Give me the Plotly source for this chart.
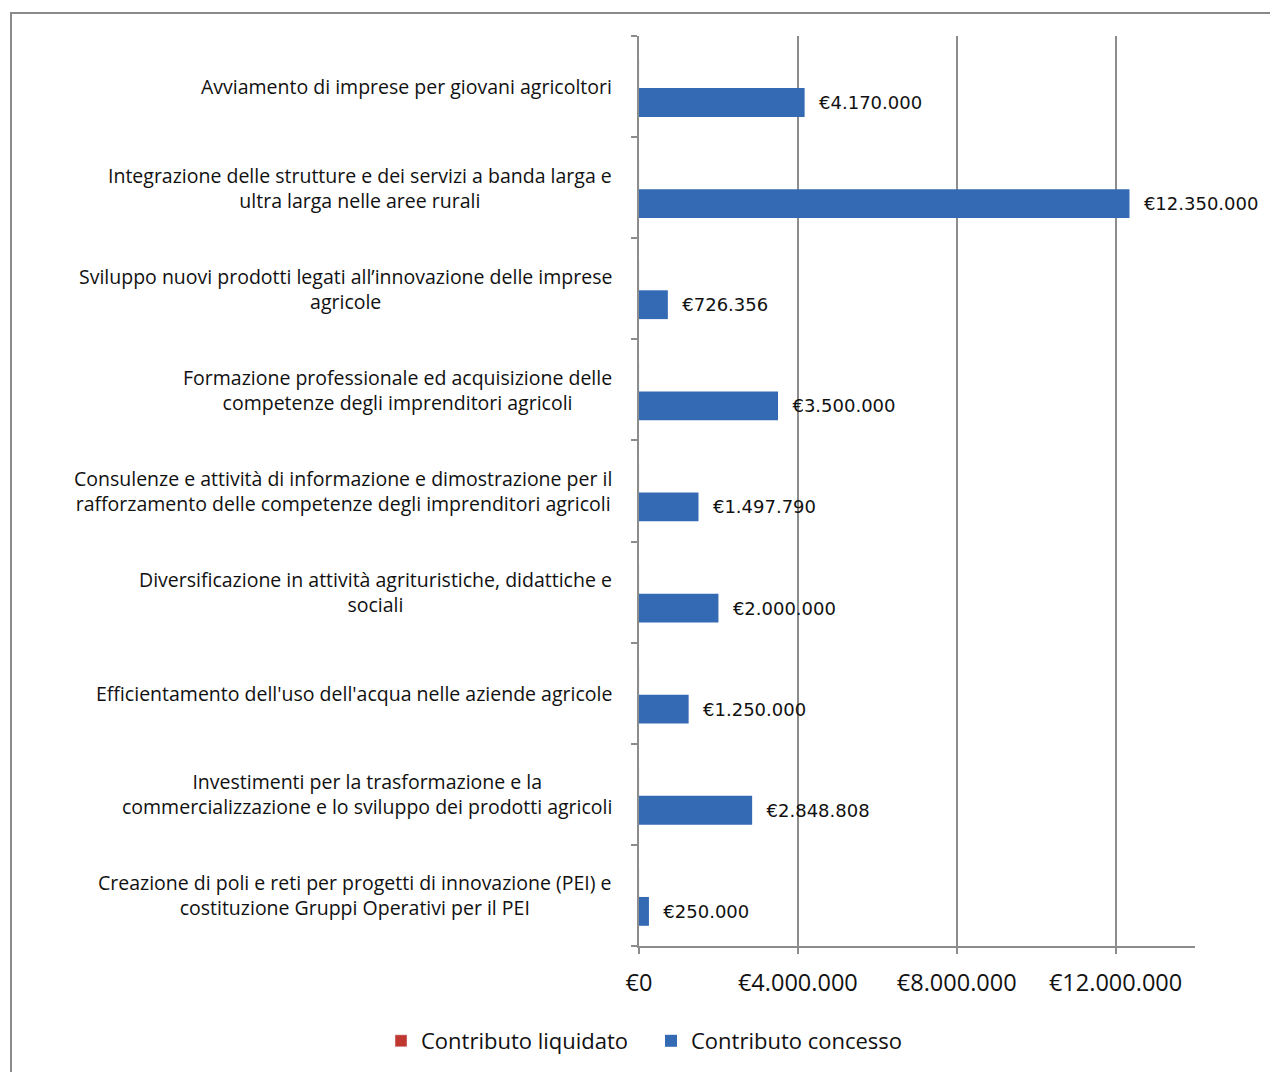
import plotly.graph_objects as go

categories = [
    "Avviamento di imprese per giovani agricoltori",
    "Integrazione delle strutture e dei servizi a banda larga e<br>ultra larga nelle aree rurali",
    "Sviluppo nuovi prodotti legati all’innovazione delle imprese<br>agricole",
    "Formazione professionale ed acquisizione delle<br>competenze degli imprenditori agricoli",
    "Consulenze e attività di informazione e dimostrazione per il<br>rafforzamento delle competenze degli imprenditori agricoli",
    "Diversificazione in attività agrituristiche, didattiche e<br>sociali",
    "Efficientamento dell'uso dell'acqua nelle aziende agricole",
    "Investimenti per la trasformazione e la<br>commercializzazione e lo sviluppo dei prodotti agricoli",
    "Creazione di poli e reti per progetti di innovazione (PEI) e<br>costituzione Gruppi Operativi per il PEI",
]
contributo_concesso = [4170000, 12350000, 726356, 3500000, 1497790, 2000000, 1250000, 2848808, 250000]
contributo_liquidato = [0, 0, 0, 0, 0, 0, 0, 0, 0]
concesso_labels = ["€4.170.000", "€12.350.000", "€726.356", "€3.500.000", "€1.497.790",
                   "€2.000.000", "€1.250.000", "€2.848.808", "€250.000"]
tick_values = [0, 4000000, 8000000, 12000000]
tick_labels = ["€0", "€4.000.000", "€8.000.000", "€12.000.000"]

ids = list(range(len(categories)))

# plot-area geometry in pixels
W, H = 1270, 1072
L, R, T, B = 639, 1195, 36, 946
pw, ph = R - L, B - T

def px_x(x):
    return (x - L) / pw

def px_y(y):
    return (B - y) / ph

fig = go.Figure()
fig.add_trace(go.Bar(
    y=ids, x=contributo_liquidato, orientation="h", name="Contributo liquidato",
    marker=dict(color="#C0372F"), width=0.285, offset=-0.27, hoverinfo="skip",
))
fig.add_trace(go.Bar(
    y=ids, x=contributo_concesso, orientation="h", name="Contributo concesso",
    marker=dict(color="#3469B3", line=dict(width=0)), width=0.285, offset=0.015,
    text=["\u00a0\u00a0" + t for t in concesso_labels], textposition="outside",
    textfont=dict(family="DejaVu Sans", size=18, color="#111"),
    cliponaxis=False,
))

annotations = []
for i, c in enumerate(categories):
    annotations.append(dict(
        x=px_x(614), xref="paper", xanchor="right", y=i, yref="y", yanchor="middle",
        text=c, showarrow=False, align="center",
        font=dict(family="Open Sans", size=19.5, color="#111"),
    ))

fig.update_layout(
    width=W, height=H,
    margin=dict(l=L, r=W - R, t=T, b=H - B, autoexpand=False),
    paper_bgcolor="white", plot_bgcolor="white",
    barmode="overlay",
    showlegend=True,
    legend=dict(orientation="h", x=px_x(651), xanchor="center", y=px_y(1041), yanchor="middle",
                font=dict(family="Open Sans", size=22, color="#111"), itemwidth=30,
                entrywidth=225, traceorder="normal"),
    annotations=annotations,
    shapes=[dict(type="rect", xref="paper", yref="paper",
                 x0=px_x(11), x1=px_x(1285), y0=px_y(1090), y1=px_y(13),
                 line=dict(color="#8a8a8a", width=2), fillcolor="rgba(0,0,0,0)", layer="below")],
    uniformtext=dict(mode=False),
)
fig.update_xaxes(
    range=[0, 14000000], tickvals=tick_values, ticktext=tick_labels,
    showgrid=True, gridcolor="#8c8c8c", gridwidth=1.5,
    showline=True, linecolor="#8c8c8c", linewidth=2,
    ticks="outside", ticklen=6, tickcolor="#8c8c8c", tickwidth=2,
    tickfont=dict(family="Open Sans", size=23.5, color="#111"),
    zeroline=False, ticklabelstandoff=9,
)
fig.update_yaxes(
    range=[len(categories) - 0.5, -0.5], tickmode="array", tickvals=[i + 0.5 for i in range(-1, len(categories))],
    showticklabels=False, showgrid=False, zeroline=False,
    showline=True, linecolor="#8c8c8c", linewidth=2,
    ticks="outside", ticklen=6, tickcolor="#8c8c8c", tickwidth=2,
)

fig.write_html("out.html")
